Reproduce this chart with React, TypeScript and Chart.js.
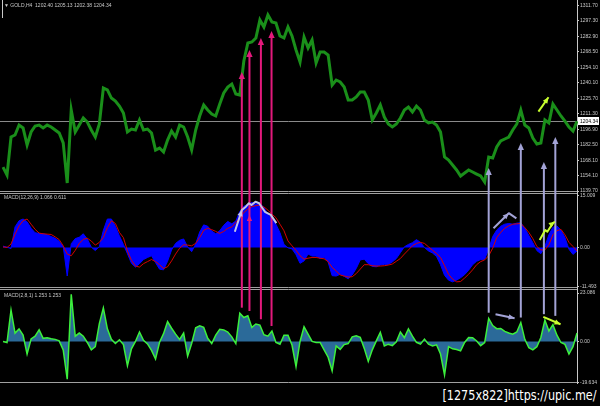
import React, { useEffect, useRef } from 'react';
import { Chart, registerables } from 'chart.js';

Chart.register(...registerables);

// ---- data (one entry per sampled H4 bar) ----
const BARS: string[] = Array.from({ length: 144 }, (_, i) => String(i + 1));

const PRICE: number[] = [
  1161.9, 1154.5, 1189.7, 1191.6, 1200.8, 1198.1, 1182.3, 1194.4, 1199.9, 1200.8,
  1198.1, 1200.8, 1199.0, 1196.2, 1193.4, 1184.2, 1147.1, 1214.7, 1194.4, 1200.8,
  1207.3, 1203.6, 1196.2, 1189.7, 1201.8, 1235.1, 1233.3, 1225.8, 1223.1, 1218.4,
  1212.0, 1194.4, 1197.1, 1196.2, 1205.5, 1196.2, 1197.1, 1193.4, 1177.7, 1179.5,
  1175.8, 1186.9, 1195.3, 1189.7, 1200.8, 1199.0, 1189.7, 1177.7, 1196.2, 1209.2,
  1219.4, 1214.7, 1211.0, 1209.2, 1220.3, 1230.5, 1236.0, 1238.8, 1229.5, 1228.6,
  1260.1, 1276.8, 1277.7, 1281.4, 1298.1, 1291.6, 1302.7, 1296.2, 1295.3, 1283.3,
  1281.4, 1291.6, 1283.3, 1270.3, 1259.2, 1282.3, 1272.2, 1279.6, 1258.3, 1268.5,
  1268.5, 1265.7, 1237.9, 1242.5, 1240.7, 1236.0, 1224.0, 1224.0, 1226.8, 1231.4,
  1231.4, 1224.0, 1205.5, 1212.0, 1219.4, 1208.2, 1201.8, 1199.0, 1201.8, 1207.3,
  1214.7, 1217.5, 1212.9, 1218.4, 1214.7, 1205.5, 1202.7, 1203.6, 1200.8, 1194.4,
  1171.2, 1168.4, 1163.8, 1159.2, 1153.6, 1156.4, 1159.2, 1157.3, 1155.4, 1153.6,
  1148.0, 1171.2, 1170.3, 1180.5, 1186.0, 1187.9, 1189.7, 1196.2, 1201.8, 1214.7,
  1200.8, 1198.1, 1188.8, 1183.2, 1184.2, 1205.5, 1202.7, 1220.3, 1214.7, 1209.2,
  1204.5, 1199.0, 1195.3, 1204.34,
];

const MACD_MAIN: number[] = [
  0.4, 0.1, -0.3, 6.0, 7.8, 8.3, 7.5, 5.6, 4.3, 4.1,
  4.0, 3.7, 3.2, 2.7, 1.8, 0.3, -8.3, 1.1, 2.6, 3.0,
  4.0, 2.5, 0.1, -0.9, 0.3, 5.0, 8.3, 8.3, 6.2, 3.4,
  0.9, -1.8, -4.6, -5.7, -4.7, -3.5, -2.9, -2.4, -4.4, -6.3,
  -6.5, -4.0, -0.7, 1.2, 2.1, 2.5, 0.2, -1.2, 1.0, 4.5,
  6.6, 6.2, 4.8, 4.0, 4.9, 6.5, 7.6, 6.9, 7.7, 10.5,
  12.0, 12.6, 13.1, 12.7, 13.0, 11.6, 9.6, 8.6, 6.8, 4.3,
  0.9, -0.1, -0.4, -2.1, -4.6, -3.9, -1.9, -2.5, -2.5, -3.2,
  -2.9, -4.3, -8.2, -8.3, -7.8, -8.4, -9.1, -8.0, -6.1, -3.6,
  -3.4, -4.7, -5.5, -5.6, -5.1, -4.9, -4.9, -4.2, -3.2, -1.5,
  0.2, 0.9, 1.4, 2.3, 1.5, 0.0, -1.0, -1.6, -2.6, -5.0,
  -8.1, -9.5, -10.0, -9.5, -8.8, -7.9, -6.6, -5.0, -4.0, -3.5,
  -3.4, -0.4, 3.2, 5.1, 6.2, 6.8, 7.0, 6.8, 7.1, 7.2,
  5.6, 3.5, 1.4, -0.9, -1.8, 0.3, 3.7, 5.9, 6.3, 5.1,
  2.9, -0.5, -2.0, -1.0,
];

const MACD_SIGNAL: number[] = [
  0.2, 0.0, 1.0, 3.9, 6.3, 7.8, 8.3, 6.8, 5.3, 4.2,
  4.0, 3.9, 3.8, 3.1, 2.3, 0.5, -1.9, -2.4, -0.8, 1.2,
  2.4, 2.7, 1.9, 0.7, 1.5, 2.9, 5.8, 7.8, 7.0, 4.4,
  2.9, -1.0, -3.7, -5.4, -5.7, -4.7, -4.1, -3.5, -4.1, -5.0,
  -6.1, -5.6, -3.9, -1.9, -0.2, 0.8, 0.7, 0.5, 1.2, 2.9,
  5.0, 5.6, 5.2, 4.7, 4.1, 4.7, 5.6, 6.0, 7.3, 8.7,
  10.2, 11.2, 11.9, 12.2, 12.4, 11.8, 10.9, 9.7, 8.7, 6.8,
  4.9, 1.9, 0.5, -0.8, -2.4, -3.4, -3.1, -2.9, -2.9, -3.1,
  -3.3, -4.1, -5.8, -6.8, -8.0, -8.3, -8.6, -8.5, -7.6, -6.3,
  -5.0, -5.0, -5.3, -5.4, -5.4, -5.3, -5.1, -4.8, -4.0, -3.2,
  -1.9, -0.7, 0.5, 1.2, 1.5, 1.2, 0.2, -0.8, -1.7, -2.9,
  -5.3, -7.8, -9.2, -10.0, -9.9, -8.9, -7.8, -6.5, -5.0, -4.1,
  -3.6, -2.4, -0.2, 2.9, 4.4, 5.6, 6.3, 6.8, 6.9, 7.0,
  5.8, 4.4, 2.6, 0.3, -0.7, -0.7, 0.8, 3.7, 4.9, 5.3,
  3.7, 1.5, 0.3, -1.0,
];

const FAST_MACD: number[] = [
  0.0, -0.5, 15.0, 4.0, 6.0, 3.0, -6.0, 1.2, 2.5, 5.5,
  1.5, 1.8, 1.3, 1.0, 0.3, -4.0, -18.0, 22.5, 2.5, 4.0,
  2.5, -0.5, -4.0, -2.5, 8.5, 16.0, 6.0, 1.0, -1.0, 0.8,
  -1.5, -11.5, -3.5, 0.0, 4.5, 0.5, -1.2, -4.3, -8.4, -0.4,
  3.7, 9.5, 6.3, 3.5, 1.0, 4.0, -7.0, -1.0, 6.5, 7.5,
  6.7, 1.5, -1.0, 3.0, 5.8, 5.5, 4.5, 2.2, -1.0, 13.5,
  11.4, 12.2, 6.7, 8.3, 7.8, 3.2, 2.5, 5.0, -0.5, -1.3,
  3.0, 3.0, -1.7, -12.0, 0.0, 7.0, 3.5, 0.0, -0.5, -0.5,
  -4.0, -7.5, -14.0, -2.1, -3.8, -1.5, -1.0, 2.2, 2.7, 2.0,
  -3.3, -9.5, -4.0, 0.3, 4.3, -2.1, -1.3, -2.0, -0.2, 4.5,
  1.8, 6.0, 2.5, -0.4, -1.3, 1.1, -1.3, -2.1, -1.6, -6.0,
  -16.0, -2.5, -3.5, -3.8, -4.5, -0.5, 1.9, 1.8, 0.2, -2.0,
  -0.5, 11.0, 7.6, 6.1, 6.2, 4.8, 4.0, 3.5, 4.5, 9.0,
  1.0, -3.0, -4.0, -2.5, 1.9, 10.2, 5.0, 8.0, 3.0, -0.5,
  -1.4, -6.0, -2.5, 4.0,
];

const PRICE_TICKS: number[] = [1311.7, 1297.3, 1282.9, 1268.5, 1254.1, 1240.1, 1225.7, 1211.3, 1196.9, 1182.5, 1168.1, 1154.1, 1139.7];
const MACD_TICKS: number[] = [15.009, 0, -11.493];
const FAST_TICKS: number[] = [23.086, 0, -19.634];
const LAST_PRICE = 1204.34;

const HEADER = '\u25BC GOLD,H4  1202.40 1205.13 1202.38 1204.34';
const MACD_LABEL = 'MACD(12,26,9) 1.066 0.611';
const FAST_LABEL = 'MACD(2,8,1) 1.253 1.253';
const FOOTER = '[1275x822]https://upic.me/';

// hand-drawn annotations, in data units: [bar index, value on lower panel, price]
const PINK_ARROWS: number[][] = [[59.5, 16.1, 1249.9], [61.4, 14.5, 1270.3], [64.25, 10.6, 1281.4], [66.9, 7.4, 1287.9]];
const LAVENDER_ARROWS: number[][] = [[121, 13.7, 1161.0], [129, 11.4, 1184.2], [134.75, 13.0, 1166.6], [137.6, 12.2, 1189.7]];
const SILVER_MACD_PATH: number[][] = [[57.75, 4.6], [59.5, 10.9], [60.5, 11.9], [61.25, 12.9], [61.9, 12.4], [62.9, 13.35], [63.8, 12.9], [65.25, 10.4], [66.7, 9.5], [68.1, 7.1]];
const LAVENDER_MACD_PATH: number[][] = [[122.2, 5.6], [126, 10.0], [127.9, 8.5]];
const LAVENDER_FAST_PATH: number[][] = [[122.7, 13.0], [127.45, 11.1]];
const LIME_PRICE_PATH: number[][] = [[133.4, 1213.2], [135.9, 1226.5]];
const LIME_MACD_PATH: number[][] = [[133.7, 2.2], [135.1, 5.1], [135.6, 4.6], [137, 7.1], [137.5, 7.5]];
const LIME_FAST_PATH: number[][] = [[134.6, 11.7], [138.9, 8.2]];

const TICK_FONT = { family: 'Liberation Sans', size: 5 };
const TEXT_COLOR = '#c8c8c8';

function arrowHead(ctx: CanvasRenderingContext2D, x0: number, y0: number, x1: number, y1: number, size: number, color: string) {
  const a = Math.atan2(y1 - y0, x1 - x0);
  ctx.save();
  ctx.fillStyle = color;
  ctx.beginPath();
  ctx.moveTo(x1, y1);
  ctx.lineTo(x1 - size * Math.cos(a) + (size * 0.45) * Math.sin(a), y1 - size * Math.sin(a) - (size * 0.45) * Math.cos(a));
  ctx.lineTo(x1 - size * Math.cos(a) - (size * 0.45) * Math.sin(a), y1 - size * Math.sin(a) + (size * 0.45) * Math.cos(a));
  ctx.closePath();
  ctx.fill();
  ctx.restore();
}

function drawPath(chart: any, axisId: string, pts: number[][], color: string, width: number, headAt: number | null) {
  const { ctx } = chart;
  const xs = chart.scales.x;
  const ys = chart.scales[axisId];
  const p = pts.map(([i, v]) => [xs.getPixelForValue(i), ys.getPixelForValue(v)]);
  ctx.save();
  ctx.strokeStyle = color;
  ctx.lineWidth = width;
  ctx.lineJoin = 'round';
  ctx.beginPath();
  p.forEach(([x, y], k) => (k === 0 ? ctx.moveTo(x, y) : ctx.lineTo(x, y)));
  ctx.stroke();
  ctx.restore();
  if (headAt !== null) {
    const a = p[headAt - 1];
    const b = p[headAt];
    arrowHead(ctx, a[0], a[1], b[0], b[1], 6, color);
  }
}

const overlayPlugin = {
  id: 'mt4overlay',
  beforeDatasetsDraw(chart: any) {
    const { ctx, chartArea } = chart;
    const yP = chart.scales.yP;
    const py = Math.round(yP.getPixelForValue(LAST_PRICE)) + 0.5;
    ctx.save();
    ctx.strokeStyle = '#8a8a8a';
    ctx.lineWidth = 1;
    ctx.beginPath();
    ctx.moveTo(0, py);
    ctx.lineTo(chartArea.right, py);
    ctx.stroke();
    ctx.restore();
  },
  afterDraw(chart: any) {
    const { ctx, chartArea } = chart;
    const xs = chart.scales.x;
    const yP = chart.scales.yP;
    const yM = chart.scales.yM;
    const yO = chart.scales.yO;

    // panel separators
    ctx.save();
    ctx.strokeStyle = '#a0a0a0';
    ctx.lineWidth = 1;
    const seps = [yP.bottom - 1, yM.top + 1, yM.bottom - 2, yO.top, yO.bottom - 1];
    ctx.beginPath();
    seps.forEach((y: number) => {
      const yy = Math.round(y) + 0.5;
      ctx.moveTo(0, yy);
      ctx.lineTo(chartArea.right, yy);
    });
    ctx.stroke();
    ctx.restore();

    // vertical arrows
    const vArrows = (list: number[][], color: string) => {
      list.forEach(([i, lo, hi]) => {
        const x = xs.getPixelForValue(i);
        const y0 = yO.getPixelForValue(lo);
        const y1 = yP.getPixelForValue(hi);
        ctx.save();
        ctx.strokeStyle = color;
        ctx.lineWidth = 2;
        ctx.beginPath();
        ctx.moveTo(x, y0);
        ctx.lineTo(x, y1 + 4);
        ctx.stroke();
        ctx.restore();
        arrowHead(ctx, x, y0, x, y1, 7, color);
      });
    };
    vArrows(PINK_ARROWS, '#e3197c');
    vArrows(LAVENDER_ARROWS, '#a3a3d6');

    // small pink head inside MACD pane
    {
      const x = xs.getPixelForValue(PINK_ARROWS[1][0]);
      const y = yM.getPixelForValue(9.5);
      arrowHead(ctx, x, y + 10, x, y, 6, '#e3197c');
    }

    drawPath(chart, 'yM', SILVER_MACD_PATH, '#c4c4e4', 2, 1);
    drawPath(chart, 'yM', LAVENDER_MACD_PATH, '#a3a3d6', 2, 1);
    drawPath(chart, 'yO', LAVENDER_FAST_PATH, '#a3a3d6', 2, 1);
    drawPath(chart, 'yP', LIME_PRICE_PATH, '#c8ff2e', 2, 1);
    drawPath(chart, 'yM', LIME_MACD_PATH, '#c8ff2e', 2, LIME_MACD_PATH.length - 1);
    drawPath(chart, 'yO', LIME_FAST_PATH, '#c8ff2e', 2, 1);

    // texts
    ctx.save();
    ctx.fillStyle = TEXT_COLOR;
    ctx.font = '5px "Liberation Sans"';
    ctx.textBaseline = 'middle';
    ctx.textAlign = 'left';
    ctx.fillText(HEADER, 4, 6);
    ctx.fillText(MACD_LABEL, 4, yM.top + 6);
    ctx.fillText(FAST_LABEL, 4, yO.top + 7);

    // current price box
    const py = Math.round(yP.getPixelForValue(LAST_PRICE));
    ctx.fillStyle = '#ffffff';
    ctx.fillRect(chartArea.right + 1, py - 4, 21, 8);
    ctx.fillStyle = '#000000';
    ctx.fillText(LAST_PRICE.toFixed(2), chartArea.right + 3, py + 0.5);

    // short vertical marker at top-left
    ctx.strokeStyle = '#c8c8c8';
    ctx.beginPath();
    ctx.moveTo(2.5, 0);
    ctx.lineTo(2.5, 18);
    ctx.stroke();
    ctx.restore();
  },
};

function axis(ticks: number[], fmt: (v: number) => string, min: number, max: number, weight: number) {
  return {
    type: 'linear',
    position: 'right',
    stack: 'panes',
    stackWeight: weight,
    bounds: 'data',
    min,
    max,
    afterBuildTicks: (scale: any) => {
      scale.ticks = ticks.map((v) => ({ value: v }));
    },
    afterFit: (scale: any) => {
      scale.width = 23;
      scale.paddingTop = 0;
      scale.paddingBottom = 0;
    },
    grid: { display: true, drawOnChartArea: false, drawTicks: true, tickLength: 2, color: '#c8c8c8' },
    border: { display: true, color: '#c8c8c8', width: 1 },
    ticks: {
      autoSkip: false,
      padding: 1,
      color: TEXT_COLOR,
      font: TICK_FONT,
      callback: (v: any) => fmt(Number(v)),
    },
  };
}

export default function App() {
  const ref = useRef<HTMLCanvasElement | null>(null);

  useEffect(() => {
    if (!ref.current) return;
    const chart = new Chart(ref.current, {
      type: 'line',
      data: {
        labels: BARS,
        datasets: [
          {
            data: PRICE,
            yAxisID: 'yP',
            borderColor: '#1a8f1a',
            borderWidth: 3,
            pointRadius: 0,
            tension: 0,
            fill: false,
            order: 0,
          },
          {
            data: MACD_SIGNAL,
            yAxisID: 'yM',
            borderColor: '#d40000',
            borderWidth: 1,
            pointRadius: 0,
            tension: 0,
            fill: false,
            order: 0,
          },
          {
            data: MACD_MAIN,
            yAxisID: 'yM',
            borderColor: '#0000ff',
            backgroundColor: '#0000ff',
            borderWidth: 1,
            pointRadius: 0,
            tension: 0,
            fill: 'origin',
            order: 1,
          },
          {
            data: FAST_MACD,
            yAxisID: 'yO',
            borderColor: '#3cf03c',
            backgroundColor: '#2b6a99',
            borderWidth: 1.5,
            pointRadius: 0,
            tension: 0,
            fill: 'origin',
            order: 0,
          },
        ],
      },
      options: {
        responsive: false,
        animation: false,
        events: [],
        layout: { padding: { left: 3, right: 0, top: 0, bottom: 1 } },
        plugins: { legend: { display: false }, tooltip: { enabled: false } },
        scales: {
          x: { type: 'category', display: false, offset: false },
          yP: axis(PRICE_TICKS, (v) => v.toFixed(2), 1138.8, 1316.6, 192),
          yM: axis(MACD_TICKS, (v) => (v === 0 ? '0.00' : v.toFixed(3)), -12.08, 16.17, 97),
          yO: axis(FAST_TICKS, (v) => (v === 0 ? '0.00' : v.toFixed(3)), -19.8, 25.0, 94),
        } as any,
      },
      plugins: [overlayPlugin],
    } as any);
    return () => chart.destroy();
  }, []);

  return (
    <div style={{ position: 'fixed', left: 0, top: 0, width: 600, height: 406, background: '#000', overflow: 'hidden' }}>
      <canvas ref={ref} width={600} height={384} style={{ display: 'block', width: 600, height: 384 }} />
      <div
        style={{
          position: 'absolute',
          right: 3,
          top: 386,
          color: '#ffffff',
          font: '14px "DejaVu Sans", sans-serif',
          whiteSpace: 'nowrap',
          transform: 'scaleX(0.8)',
          transformOrigin: 'right center',
          lineHeight: '18px',
        }}
      >
        {FOOTER}
      </div>
    </div>
  );
}
